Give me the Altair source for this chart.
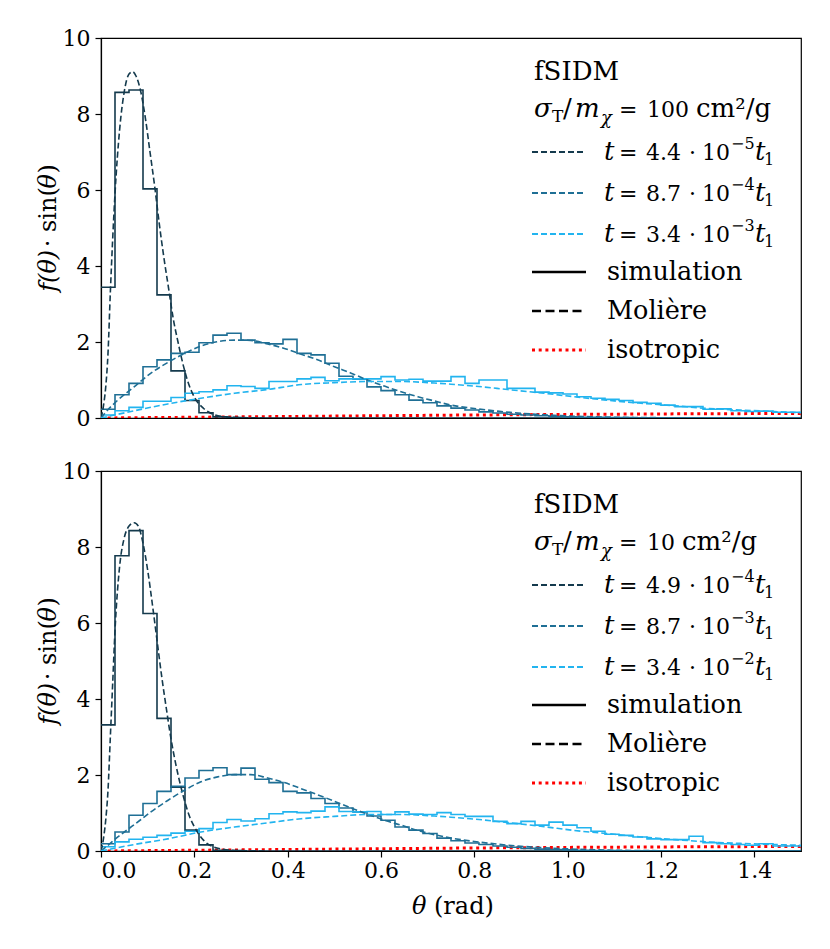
import altair as alt
import pandas as pd

# ---------------- data ----------------
BIN = 0.03
NBINS = 50
EDGES = [round(i * BIN, 2) for i in range(NBINS)] + [1.5]

SERIES = ["s1", "s2", "s3"]
COLORS = ["#143a4d", "#1f6f95", "#22b4ef"]

# simulation histograms (bin height per 0.03 rad bin)
hist_top_1 = [3.44, 8.57, 8.63, 6.03, 3.24, 1.24, 0.46, 0.14, 0.03, 0.01]
hist_top_2 = [0.23, 0.61, 0.91, 1.35, 1.53, 1.70, 1.73, 1.98, 2.18, 2.23,
              2.05, 1.98, 1.95, 2.07, 1.70, 1.66, 1.44, 1.10, 1.02, 0.82,
              0.72, 0.61, 0.47, 0.40, 0.32, 0.26, 0.21, 0.16, 0.13, 0.10,
              0.08, 0.06, 0.04, 0.03, 0.02, 0.02, 0.01, 0.01]
hist_top_3 = [0.08, 0.19, 0.28, 0.44, 0.44, 0.54, 0.65, 0.69, 0.74, 0.85,
              0.83, 0.78, 0.96, 0.96, 1.03, 1.07, 0.98, 1.03, 1.03, 1.03,
              1.09, 1.00, 1.02, 0.97, 0.97, 1.09, 0.91, 1.00, 1.00, 0.78,
              0.78, 0.68, 0.66, 0.63, 0.56, 0.52, 0.49, 0.46, 0.41, 0.39,
              0.34, 0.30, 0.30, 0.23, 0.24, 0.19, 0.17, 0.18, 0.15, 0.15]

hist_bot_1 = [3.32, 7.77, 8.43, 6.25, 3.49, 1.68, 0.55, 0.16, 0.02, 0.01]
hist_bot_2 = [0.19, 0.50, 0.94, 1.25, 1.57, 1.70, 1.92, 2.12, 2.19, 2.01,
              2.18, 1.89, 1.80, 1.57, 1.53, 1.38, 1.25, 1.13, 1.03, 0.92,
              0.81, 0.63, 0.55, 0.46, 0.34, 0.27, 0.21, 0.17, 0.13, 0.10,
              0.07, 0.05, 0.04, 0.03, 0.02, 0.01, 0.01]
hist_bot_3 = [0.11, 0.24, 0.31, 0.36, 0.41, 0.47, 0.52, 0.59, 0.75, 0.83,
              0.79, 0.85, 0.98, 1.03, 1.01, 1.05, 1.16, 1.04, 1.03, 1.04,
              0.96, 1.03, 0.97, 0.96, 1.01, 0.96, 0.91, 0.91, 0.78, 0.72,
              0.78, 0.68, 0.76, 0.68, 0.61, 0.52, 0.44, 0.41, 0.37, 0.32,
              0.30, 0.30, 0.39, 0.22, 0.19, 0.17, 0.15, 0.19, 0.13, 0.13]

# Moliere curves (theta, value)
mol1_top_t = [0, 0.005, 0.01, 0.015, 0.02, 0.025, 0.03, 0.04, 0.05, 0.06, 0.068,
              0.075, 0.085, 0.095, 0.105, 0.115, 0.125, 0.135, 0.145, 0.155,
              0.165, 0.175, 0.185, 0.2, 0.22, 0.24, 0.26, 0.3, 0.35]
mol1_top_v = [0, 0.3, 0.8, 1.7, 3.3, 4.7, 5.9, 7.6, 8.6, 9.05, 9.11,
              9.0, 8.6, 7.9, 7.0, 6.1, 5.1, 4.2, 3.4, 2.6,
              2.0, 1.45, 1.0, 0.55, 0.25, 0.1, 0.04, 0.01, 0]
mol1_bot_t = [0, 0.005, 0.01, 0.015, 0.02, 0.025, 0.03, 0.04, 0.05, 0.06, 0.071,
              0.08, 0.09, 0.1, 0.11, 0.12, 0.13, 0.14, 0.15, 0.16, 0.17,
              0.18, 0.19, 0.2, 0.22, 0.24, 0.26, 0.3, 0.35]
mol1_bot_v = [0, 0.3, 0.8, 1.6, 3.0, 4.4, 5.8, 7.5, 8.25, 8.55, 8.64,
              8.55, 8.1, 7.39, 6.5, 5.55, 4.6, 3.75, 2.95, 2.3, 1.75,
              1.28, 0.9, 0.64, 0.28, 0.11, 0.05, 0.01, 0]
mol2_t = [0, 0.01, 0.036, 0.071, 0.107, 0.143, 0.179, 0.214, 0.25, 0.286, 0.321,
          0.357, 0.393, 0.429, 0.464, 0.5, 0.536, 0.571, 0.607, 0.643, 0.679,
          0.714, 0.75, 0.8, 0.85, 0.9, 0.95, 1.0, 1.1, 1.2, 1.3, 1.5]
mol2_top_v = [0, 0.15, 0.47, 0.82, 1.18, 1.46, 1.70, 1.89, 2.01, 2.05, 2.04,
              1.95, 1.83, 1.68, 1.53, 1.35, 1.18, 1.0, 0.84, 0.69, 0.56,
              0.45, 0.34, 0.25, 0.18, 0.125, 0.085, 0.055, 0.02, 0.008, 0.003, 0]
mol2_bot_v = [0, 0.1, 0.37, 0.69, 1.03, 1.33, 1.60, 1.82, 1.95, 2.01, 2.01,
              1.92, 1.80, 1.64, 1.48, 1.31, 1.13, 0.97, 0.81, 0.68, 0.54,
              0.43, 0.34, 0.25, 0.18, 0.125, 0.085, 0.055, 0.02, 0.008, 0.003, 0]
mol3_t = [0, 0.071, 0.143, 0.214, 0.286, 0.357, 0.429, 0.5, 0.571, 0.643, 0.714,
          0.75, 0.8, 0.871, 0.95, 1.014, 1.1, 1.157, 1.23, 1.3, 1.37, 1.443, 1.5]
mol3_top_v = [0, 0.19, 0.37, 0.52, 0.65, 0.75, 0.88, 0.93, 0.96, 0.96, 0.92,
              0.89, 0.84, 0.75, 0.65, 0.56, 0.45, 0.39, 0.32, 0.25, 0.21, 0.17, 0.14]
mol3_bot_v = [0, 0.17, 0.32, 0.50, 0.63, 0.74, 0.85, 0.91, 0.96, 0.96, 0.92,
              0.89, 0.84, 0.75, 0.64, 0.54, 0.44, 0.37, 0.30, 0.24, 0.20, 0.17, 0.15]

iso_t = [0, 0.25, 0.5, 0.75, 1.0, 1.25, 1.5]
iso_v = [0, 0.025, 0.05, 0.075, 0.095, 0.11, 0.12]

X_TICKS = [0.0, 0.2, 0.4, 0.6, 0.8, 1.0, 1.2, 1.4]
Y_TICKS = [0, 2, 4, 6, 8, 10]

TOP_SIGMA = "100"
BOT_SIGMA = "10"
TOP_TIMES = [("4.4", "−5"), ("8.7", "−4"), ("3.4", "−3")]
BOT_TIMES = [("4.9", "−4"), ("8.7", "−3"), ("3.4", "−2")]

# ---------------- helpers ----------------
W, H = 700, 380
FONT = "DejaVu Serif"
ONE = alt.InlineData(values=[{"k": 0}])


def hist_frame(lists):
    rows = []
    for s, vals in zip(SERIES, lists):
        vals = list(vals) + [0.0] * (NBINS - len(vals))
        vals = vals + [vals[-1]]
        for x, v in zip(EDGES, vals):
            rows.append({"theta": x, "value": v, "series": s})
    return pd.DataFrame(rows)


def curve_frame(pairs):
    rows = []
    for s, (ts, vs) in zip(SERIES, pairs):
        for x, v in zip(ts, vs):
            rows.append({"theta": x, "value": v, "series": s})
    return pd.DataFrame(rows)


def txt(text, x, y, size=25, style="normal", angle=0, align="left", baseline="alphabetic"):
    kw = dict(text=text, font=FONT, fontSize=size, fontStyle=style, color="black",
              align=align, baseline=baseline)
    if angle:
        kw["angle"] = angle
    return alt.Chart(ONE).mark_text(**kw).encode(x=alt.value(x), y=alt.value(y))


def sample(y, color, dash, width):
    kw = dict(color=color, strokeWidth=width)
    if dash:
        kw["strokeDash"] = dash
    return alt.Chart(ONE).mark_rule(**kw).encode(
        x=alt.value(431), x2=alt.value(485), y=alt.value(y))


def legend_layers(sigma, times):
    L = []
    L.append(txt("fSIDM", 433, 42, 26))
    # sigma_T / m_chi = ... cm^2/g
    L.append(txt("σ", 433, 79, 26, "italic"))
    L.append(txt("T", 451, 84, 17))
    L.append(txt("/", 462, 79, 26))
    L.append(txt("m", 474, 79, 26, "italic"))
    L.append(txt("χ", 500, 86, 18, "italic"))
    L.append(txt("=", 518, 79, 22))
    L.append(txt(sigma, 546, 79, 22))
    L.append(txt("cm²/g", 553 + 14 * len(sigma), 79, 26))
    ys = [114, 155, 196]
    for (mant, exp), yl, c in zip(times, ys, COLORS):
        b = yl + 8
        L.append(sample(yl, c, [6, 3], 2))
        L.append(txt("t", 503, b, 26, "italic"))
        L.append(txt("=", 518, b, 22))
        L.append(txt(mant, 545, b, 22))
        L.append(txt("·", 588, b, 22))
        L.append(txt("10", 601, b, 22))
        L.append(txt(exp, 630, b - 11, 16))
        L.append(txt("t", 654, b, 26, "italic"))
        L.append(txt("1", 663, b + 5, 16))
    L.append(sample(234, "black", None, 2.5))
    L.append(txt("simulation", 506, 242, 25.5))
    L.append(sample(273, "black", [9, 4.5], 2.5))
    L.append(txt("Molière", 506, 281, 25.5))
    L.append(sample(312, "red", [3, 3.7], 3))
    L.append(txt("isotropic", 506, 320, 25.5))
    return L


def ytitle_layers():
    size = 24
    pieces = [("f(θ)", "italic", 1.86), (" · sin(", "normal", 2.45),
              ("θ", "italic", 0.62), (")", "normal", 0.39)]
    total = sum(p[2] for p in pieces) * size
    y = H / 2 + total / 2
    L = []
    for t, st, w in pieces:
        L.append(txt(t, -52, y, size, st, angle=270, baseline="middle"))
        y -= w * size
    return L


def panel(hists, curves, sigma, times, bottom):
    hd = hist_frame(hists)
    cd = curve_frame(curves)
    iso = pd.DataFrame({"theta": iso_t, "value": iso_v})
    if bottom:
        xax = alt.Axis(values=X_TICKS, format=".1f", title=None, labelPadding=3)
    else:
        xax = None
    x = alt.X("theta:Q", scale=alt.Scale(domain=[0, 1.5], nice=False, zero=False), axis=xax)
    y = alt.Y("value:Q", scale=alt.Scale(domain=[0, 10], nice=False),
              axis=alt.Axis(values=Y_TICKS, title=None, labelPadding=5))
    col = alt.Color("series:N", scale=alt.Scale(domain=SERIES, range=COLORS), legend=None)
    hist = alt.Chart(hd).mark_line(interpolate="step-after", strokeWidth=1.6, clip=True).encode(
        x=x, y=y, color=col, detail="series:N")
    mol = alt.Chart(cd).mark_line(interpolate="monotone", strokeWidth=1.6,
                                  strokeDash=[6, 3], clip=True).encode(
        x=x, y=y, color=col, detail="series:N")
    isol = alt.Chart(iso).mark_line(color="red", strokeWidth=3, strokeDash=[3, 3.7],
                                    clip=True).encode(x=x, y=y)
    layers = [isol, hist, mol] + legend_layers(sigma, times) + ytitle_layers()
    if bottom:
        layers.append(txt("θ", 311, H + 63, 24, "italic"))
        layers.append(txt("(rad)", 333, H + 63, 24))
    return alt.layer(*layers).properties(width=W, height=H)


top = panel([hist_top_1, hist_top_2, hist_top_3],
            [(mol1_top_t, mol1_top_v), (mol2_t, mol2_top_v), (mol3_t, mol3_top_v)],
            TOP_SIGMA, TOP_TIMES, False)
bot = panel([hist_bot_1, hist_bot_2, hist_bot_3],
            [(mol1_bot_t, mol1_bot_v), (mol2_t, mol2_bot_v), (mol3_t, mol3_bot_v)],
            BOT_SIGMA, BOT_TIMES, True)

chart = alt.vconcat(top, bot, spacing=29).properties(
    padding={"left": 28, "top": 18, "right": 5, "bottom": 5},
    background="white",
).configure_view(stroke="black", strokeWidth=1.2).configure_axis(
    labelFont=FONT, labelFontSize=22, labelColor="black", domainColor="black",
    tickColor="black", tickSize=6, domainWidth=1.2, tickWidth=1.2, grid=False,
)

chart.save("out.html", embed_options={"renderer": "svg", "actions": False})
